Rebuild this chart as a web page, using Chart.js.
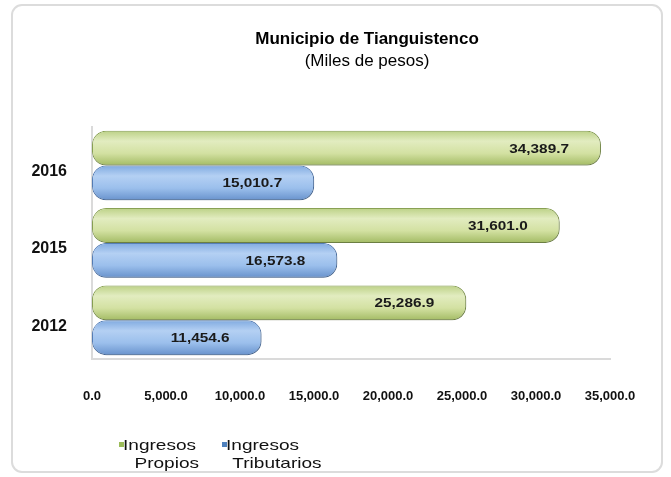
<!DOCTYPE html>
<html>
<head>
<meta charset="utf-8">
<script src="https://cdn.jsdelivr.net/npm/chart.js@4.4.1/dist/chart.umd.min.js"></script>
<style>
  html, body { margin: 0; padding: 0; background: #ffffff; }
  #wrap { position: relative; width: 671px; height: 477px; overflow: hidden; }
  #panel { position: absolute; left: 11px; top: 4px; width: 652px; height: 469px;
           border: 2px solid #dcdcdc; border-radius: 11px; box-sizing: border-box; }
  canvas { position: absolute; left: 0; top: 0; }
  .leg { position: absolute; top: 436px; font-family: "Liberation Sans", Arial, sans-serif;
         font-size: 15px; line-height: 18px; color: #111; }
  .leg .mk { position: absolute; left: 0; top: 6px; width: 5px; height: 5px; }
  .leg .tx { position: absolute; left: 4px; top: 0; white-space: nowrap;
             transform: scaleX(1.27); transform-origin: 0 0; }
  .leg .l2 { padding-left: 9px; }
</style>
</head>
<body>
<div id="wrap">
  <div id="panel"></div>
  <canvas id="c" width="671" height="477"></canvas>
  <div class="leg" style="left:119px"><span class="mk" style="background:#9bbb59"></span><div class="tx">Ingresos<div class="l2">Propios</div></div></div>
  <div class="leg" style="left:222px"><span class="mk" style="background:#4f81bd"></span><div class="tx">Ingresos<div class="l2" style="padding-left:5px">Tributarios</div></div></div>
</div>
<script>
const categories = ['2016', '2015', '2012'];
const seriesNames = ['Ingresos Propios', 'Ingresos Tributarios'];
const ingresosPropios = [34389.7, 31601.0, 25286.9];
const ingresosTributarios = [15010.7, 16573.8, 11454.6];
const xTicks = [0, 5000, 10000, 15000, 20000, 25000, 30000, 35000];
const titleLines = ['Municipio de Tianguistenco', '(Miles de pesos)'];

const FONT = '"Liberation Sans", Arial, sans-serif';
const fmt = v => v.toLocaleString('en-US', {minimumFractionDigits: 1, maximumFractionDigits: 1});

const palettes = [
  {stops: ['#bcd186', '#e2ecc0', '#d3e1a2', '#a3bb64'], border: '#8ca556'},
  {stops: ['#80aae0', '#b4d0f3', '#9bbfec', '#6892cc'], border: '#5781bb'}
];

const cylinderPlugin = {
  id: 'cylinder',
  afterLayout(chart) {
    const shift = 62;
    chart.boxes.forEach(b => {
      if (b.options && (b.options.text === titleLines[0] || b.options.text === titleLines[1])) {
        b.left += shift;
        b.right += shift;
      }
    });
  },
  beforeDatasetsDraw(chart) {
    const ctx = chart.ctx;
    chart.data.datasets.forEach((ds, di) => {
      const meta = chart.getDatasetMeta(di);
      const p = palettes[di];
      meta.data.forEach(el => {
        const top = el.y - el.height / 2, bot = el.y + el.height / 2;
        const g = ctx.createLinearGradient(0, top, 0, bot);
        g.addColorStop(0, p.stops[0]);
        g.addColorStop(0.3, p.stops[1]);
        g.addColorStop(0.65, p.stops[2]);
        g.addColorStop(1, p.stops[3]);
        el.options = Object.assign({}, el.options, {backgroundColor: g, borderColor: p.border});
      });
    });
    ctx.save();
    ctx.shadowColor = 'rgba(0,0,0,0.28)';
    ctx.shadowBlur = 5;
    ctx.shadowOffsetX = 2;
    ctx.shadowOffsetY = 3;
  },
  afterDatasetsDraw(chart) {
    const ctx = chart.ctx;
    ctx.restore();
    chart.data.datasets.forEach((ds, di) => {
      const meta = chart.getDatasetMeta(di);
      meta.data.forEach((el, i) => {
        ctx.save();
        ctx.translate(el.x - 32, el.y + 1);
        ctx.scale(1.18, 1);
        ctx.font = 'bold 13px ' + FONT;
        ctx.fillStyle = '#1a1a1a';
        ctx.textAlign = 'right';
        ctx.textBaseline = 'middle';
        ctx.fillText(fmt(ds.data[i]), 0, 0);
        ctx.restore();
      });
    });
  }
};

new Chart(document.getElementById('c'), {
  type: 'bar',
  data: {
    labels: categories,
    datasets: [
      {label: seriesNames[0], data: ingresosPropios, backgroundColor: '#d3e1a2'},
      {label: seriesNames[1], data: ingresosTributarios, backgroundColor: '#9bbfec'}
    ]
  },
  options: {
    indexAxis: 'y',
    responsive: false,
    animation: false,
    devicePixelRatio: 1,
    layout: {padding: {left: 0, right: 61, top: 0, bottom: 0}},
    datasets: {
      bar: {
        categoryPercentage: 0.9,
        barPercentage: 1.0,
        borderWidth: 1,
        borderRadius: 14,
        borderSkipped: false
      }
    },
    plugins: {
      legend: {display: false},
      tooltip: {enabled: false},
      title: {
        display: true,
        text: titleLines[0],
        color: '#000',
        font: {family: FONT, size: 17, weight: 'bold'},
        padding: {top: 29, bottom: 0}
      },
      subtitle: {
        display: true,
        text: titleLines[1],
        color: '#000',
        font: {family: FONT, size: 17, weight: 'normal'},
        padding: {top: 2, bottom: 55}
      }
    },
    scales: {
      x: {
        type: 'linear',
        min: 0,
        max: 35000,
        afterBuildTicks: s => { s.ticks = xTicks.map(v => ({value: v})); },
        afterFit: s => { s.height = 118; },
        grid: {display: false, drawTicks: false},
        border: {display: true, color: '#dadada', width: 2},
        ticks: {
          padding: 30,
          color: '#111',
          font: {family: FONT, size: 13, weight: 'bold'},
          callback: v => fmt(v)
        }
      },
      y: {
        afterFit: s => { s.width = 92; },
        grid: {display: false, drawTicks: false},
        border: {display: true, color: '#dadada', width: 2},
        ticks: {
          padding: 25,
          labelOffset: 6,
          color: '#111',
          font: {family: FONT, size: 16, weight: 'bold'}
        }
      }
    }
  },
  plugins: [cylinderPlugin]
});
</script>
</body>
</html>
